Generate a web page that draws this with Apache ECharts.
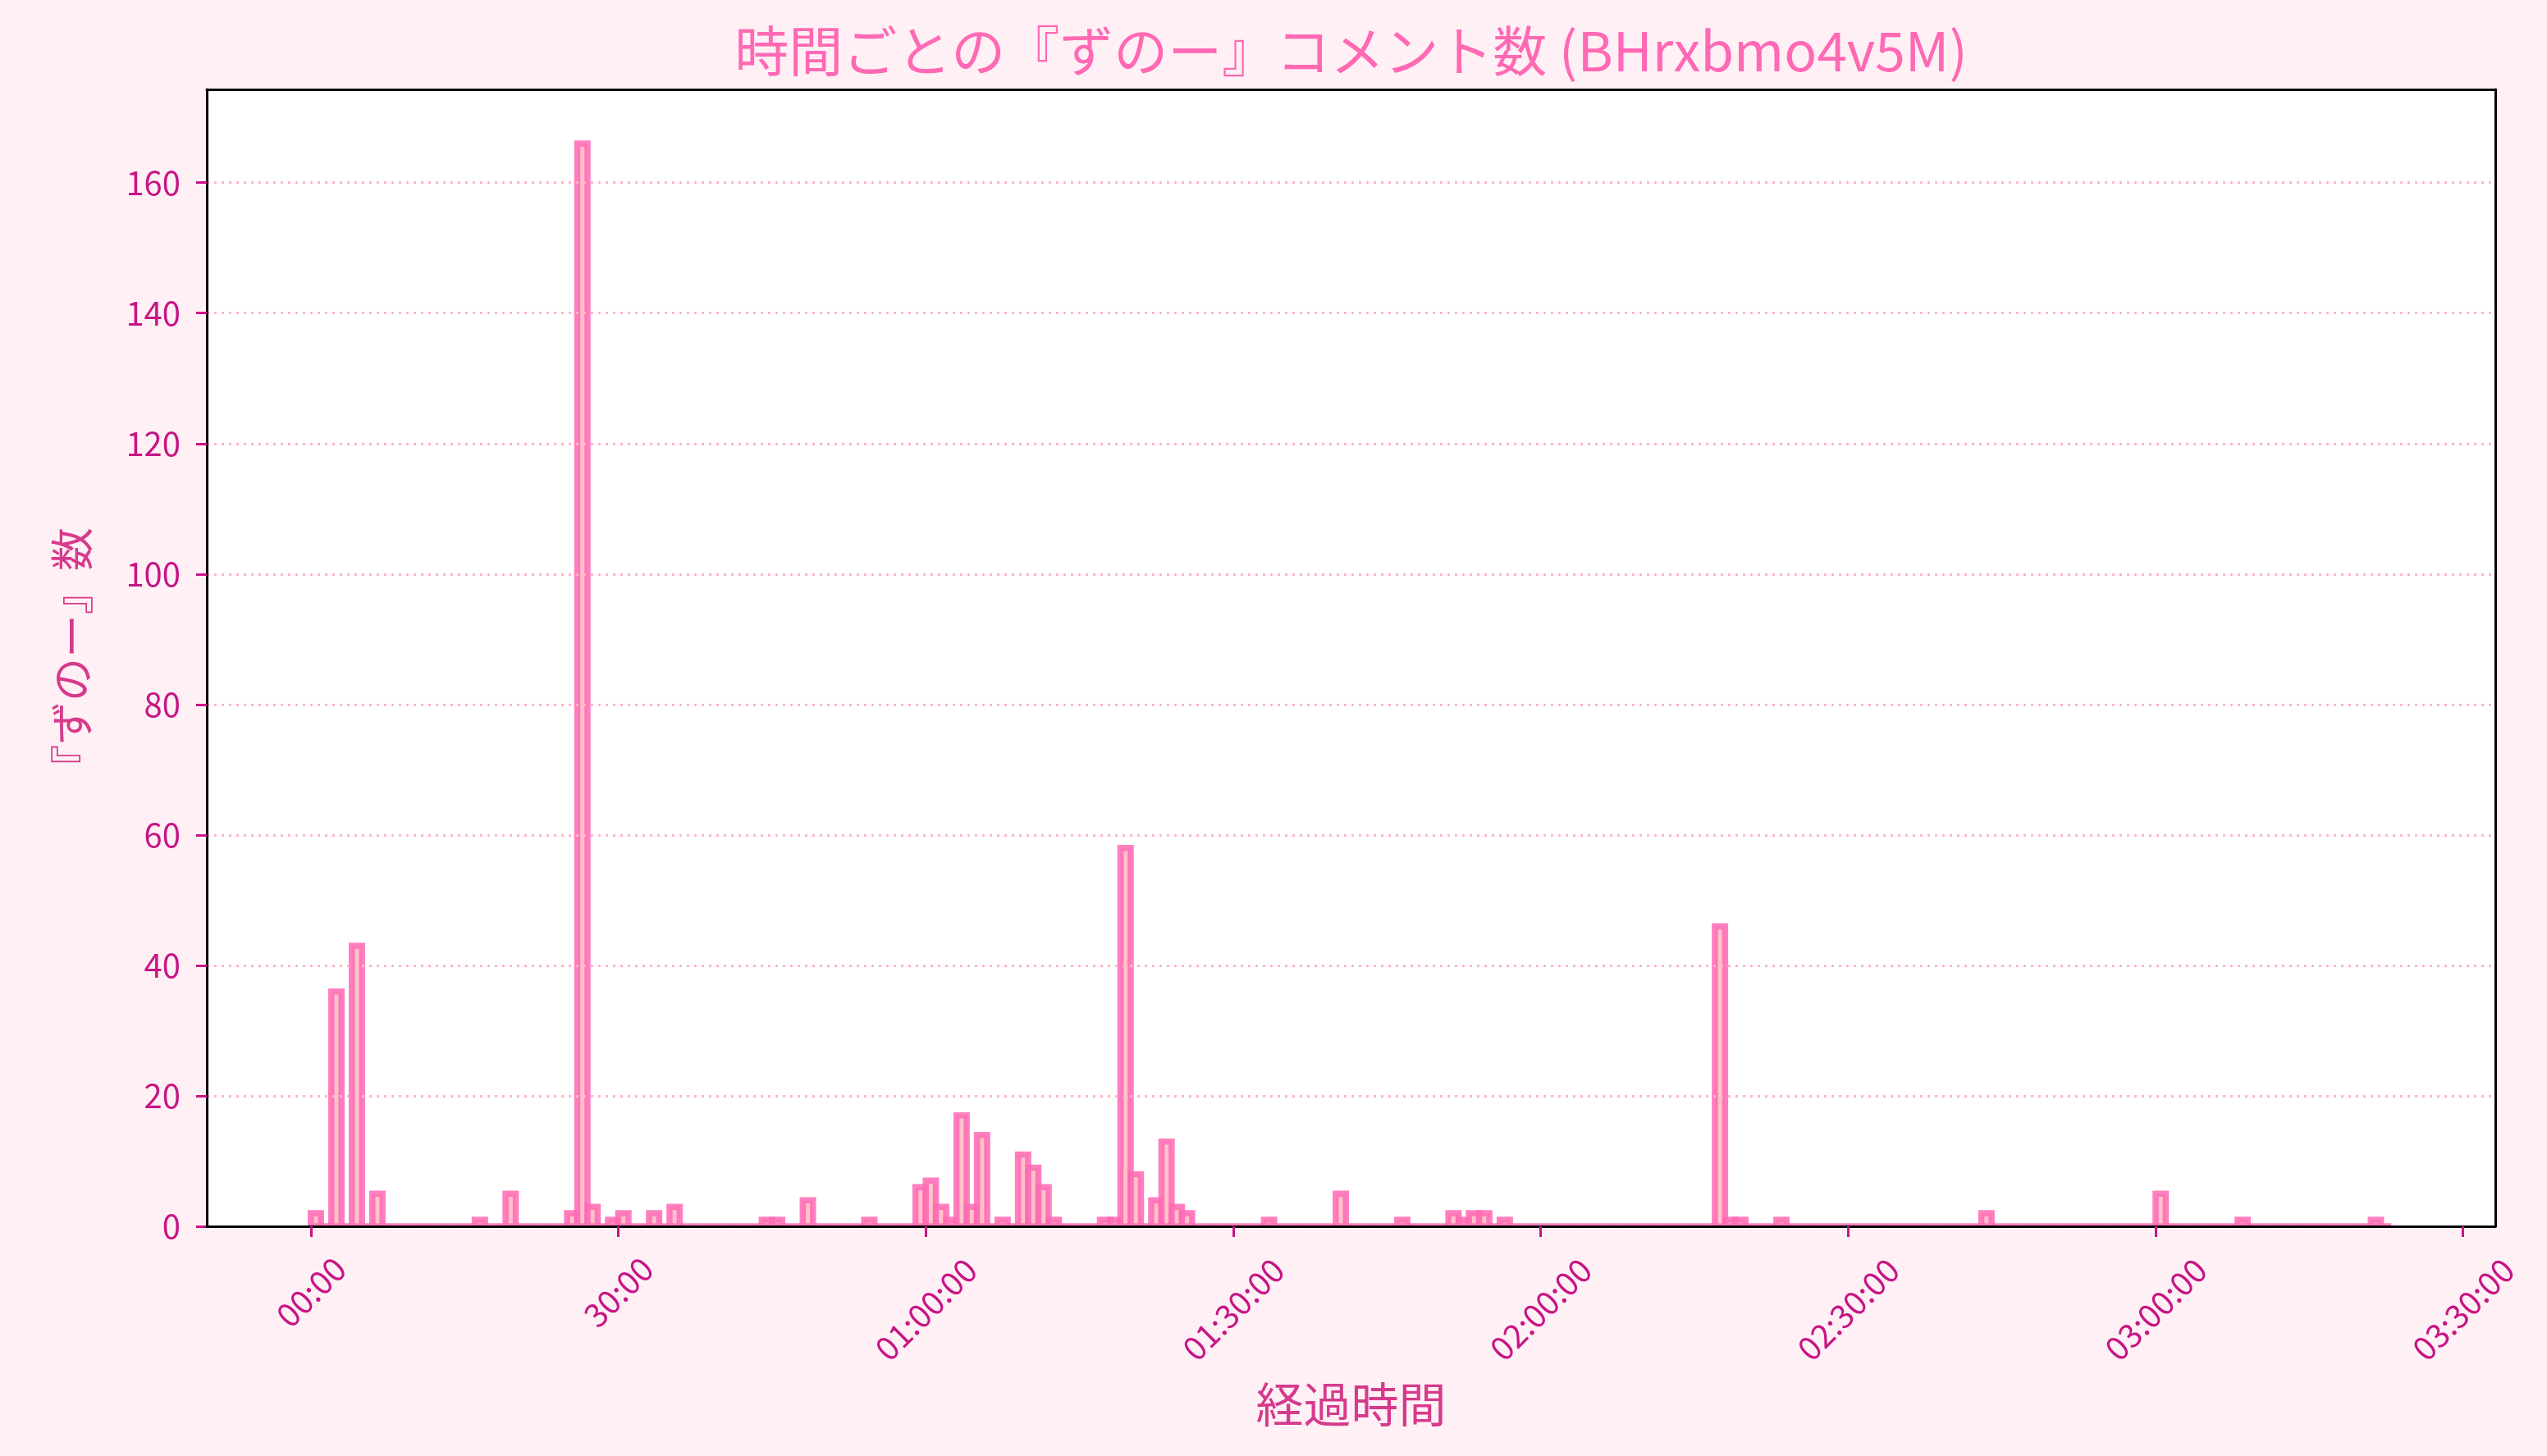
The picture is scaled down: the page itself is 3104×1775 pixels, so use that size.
<!DOCTYPE html>
<html>
<head>
<meta charset="utf-8">
<title>時間ごとの『ずのー』コメント数</title>
<script src="https://cdn.jsdelivr.net/npm/echarts@6/dist/echarts.min.js"></script>
<style>
  html, body { margin: 0; padding: 0; background: #fff0f5; }
  #chart { width: 3104px; height: 1775px; }
</style>
</head>
<body>
<div id="chart"></div>
<script>
// 1分ごとのビン（分）とコメント数
const counts = [
  2, 0, 36, 0, 43, 0, 5, 0, 0, 0,
  0, 0, 0, 0, 0, 0, 1, 0, 0, 5,
  0, 0, 0, 0, 0, 2, 166, 3, 0, 1,
  2, 0, 0, 2, 0, 3, 0, 0, 0, 0,
  0, 0, 0, 0, 1, 1, 0, 0, 4, 0,
  0, 0, 0, 0, 1, 0, 0, 0, 0, 6,
  7, 3, 1, 17, 3, 14, 0, 1, 0, 11,
  9, 6, 1, 0, 0, 0, 0, 1, 1, 58,
  8, 0, 4, 13, 3, 2, 0, 0, 0, 0,
  0, 0, 0, 1, 0, 0, 0, 0, 0, 0,
  5, 0, 0, 0, 0, 0, 1, 0, 0, 0,
  0, 2, 1, 2, 2, 0, 1, 0, 0, 0,
  0, 0, 0, 0, 0, 0, 0, 0, 0, 0,
  0, 0, 0, 0, 0, 0, 0, 46, 1, 1,
  0, 0, 0, 1, 0, 0, 0, 0, 0, 0,
  0, 0, 0, 0, 0, 0, 0, 0, 0, 0,
  0, 0, 0, 2, 0, 0, 0, 0, 0, 0,
  0, 0, 0, 0, 0, 0, 0, 0, 0, 0,
  5, 0, 0, 0, 0, 0, 0, 0, 1, 0,
  0, 0, 0, 0, 0, 0, 0, 0, 0, 0,
  0, 1, 0
];
const minutes = counts.map((c, i) => i);
const shortTicks = [0, 30];                          // "MM:SS" 表記
const longTicks = [60, 90, 120, 150, 180, 210];      // "HH:MM:SS" 表記
const yTicks = [0, 20, 40, 60, 80, 100, 120, 140, 160];

const FONT = '"Noto Sans CJK JP", "Noto Sans", sans-serif';
const TICK_COLOR = '#c71585';
const LABEL_COLOR = '#d63a8c';

// matplotlib のデフォルトマージン (5%)
const span = minutes.length;
const xMin = -0.05 * span;
const xMax = span + 0.05 * span;
const yMax = Math.max(...counts) * 1.05;

function fmtTime (v) {
  const total = Math.round(v * 60);
  const h = Math.floor(total / 3600);
  const m = Math.floor((total % 3600) / 60);
  const s = total % 60;
  const p = n => String(n).padStart(2, '0');
  return h > 0 ? p(h) + ':' + p(m) + ':' + p(s) : p(m) + ':' + p(s);
}

function xAxisCommon (ticks, margin) {
  return {
    type: 'value',
    min: xMin,
    max: xMax,
    position: 'bottom',
    z: 4,
    axisLine: { show: false },
    splitLine: { show: false },
    axisTick: {
      show: true, customValues: ticks, length: 13,
      lineStyle: { color: TICK_COLOR, width: 3 }
    },
    axisLabel: {
      show: true, customValues: ticks, rotate: 45, margin: margin,
      align: 'center', verticalAlign: 'middle',
      color: TICK_COLOR, fontSize: 40, fontFamily: FONT,
      formatter: fmtTime
    }
  };
}

const xShort = xAxisCommon(shortTicks, 80);
xShort.axisLine = { show: true, onZero: false, lineStyle: { color: '#000', width: 3 } };
xShort.name = '経過時間';
xShort.nameLocation = 'middle';
xShort.nameGap = 217;
xShort.nameTextStyle = { color: LABEL_COLOR, fontSize: 58, fontFamily: FONT, verticalAlign: 'middle' };

const xLong = xAxisCommon(longTicks, 101);

const chart = echarts.init(document.getElementById('chart'));
chart.setOption({
  backgroundColor: '#fff0f5',
  animation: false,
  grid: {
    left: 252, right: 63, top: 109, bottom: 280,
    show: true, backgroundColor: '#ffffff', borderWidth: 0
  },
  graphic: [{
    type: 'text',
    x: 252 + (3104 - 252 - 63) / 2,
    y: 62,
    style: {
      text: '時間ごとの『ずのー』コメント数 (BHrxbmo4v5M)',
      fill: '#ff69b4',
      fontSize: 66,
      fontFamily: FONT,
      align: 'center',
      verticalAlign: 'middle'
    }
  }],
  xAxis: [
    xShort,
    xLong,
    {
      type: 'value', min: xMin, max: xMax, position: 'top', z: 4,
      axisLine: { show: true, onZero: false, lineStyle: { color: '#000', width: 3 } },
      axisTick: { show: false }, axisLabel: { show: false }, splitLine: { show: false }
    }
  ],
  yAxis: [
    {
      type: 'value',
      min: 0,
      max: yMax,
      interval: 20,
      z: 3,
      name: '『ずのー』数',
      nameLocation: 'middle',
      nameRotate: 90,
      nameGap: 164,
      nameTextStyle: { color: LABEL_COLOR, fontSize: 53, fontFamily: FONT, verticalAlign: 'middle' },
      axisLine: { show: true, onZero: false, lineStyle: { color: '#000', width: 3 } },
      axisTick: {
        show: true, customValues: yTicks, length: 13,
        lineStyle: { color: TICK_COLOR, width: 3 }
      },
      axisLabel: {
        show: true, customValues: yTicks, margin: 32,
        color: TICK_COLOR, fontSize: 40, fontFamily: FONT
      },
      splitLine: {
        show: true,
        lineStyle: { color: '#ffb6c1', width: 3, type: [3, 6] }
      }
    },
    {
      type: 'value', min: 0, max: yMax, position: 'right', z: 4,
      axisLine: { show: true, onZero: false, lineStyle: { color: '#000', width: 3 } },
      axisTick: { show: false }, axisLabel: { show: false }, splitLine: { show: false }
    }
  ],
  series: [{
    type: 'custom',
    xAxisIndex: 0,
    yAxisIndex: 0,
    clip: true,
    z: 2,
    data: minutes.map((m, i) => [m, counts[i]]),
    renderItem (params, api) {
      const x = api.value(0);
      const v = api.value(1);
      const p0 = api.coord([x, 0]);
      const p1 = api.coord([x + 1, v]);
      return {
        type: 'rect',
        shape: { x: p0[0], y: p1[1], width: p1[0] - p0[0], height: p0[1] - p1[1] },
        style: {
          fill: 'rgba(255, 182, 193, 0.85)',
          stroke: 'rgba(255, 105, 180, 0.85)',
          lineWidth: 7.5
        }
      };
    }
  }]
});
</script>
</body>
</html>
